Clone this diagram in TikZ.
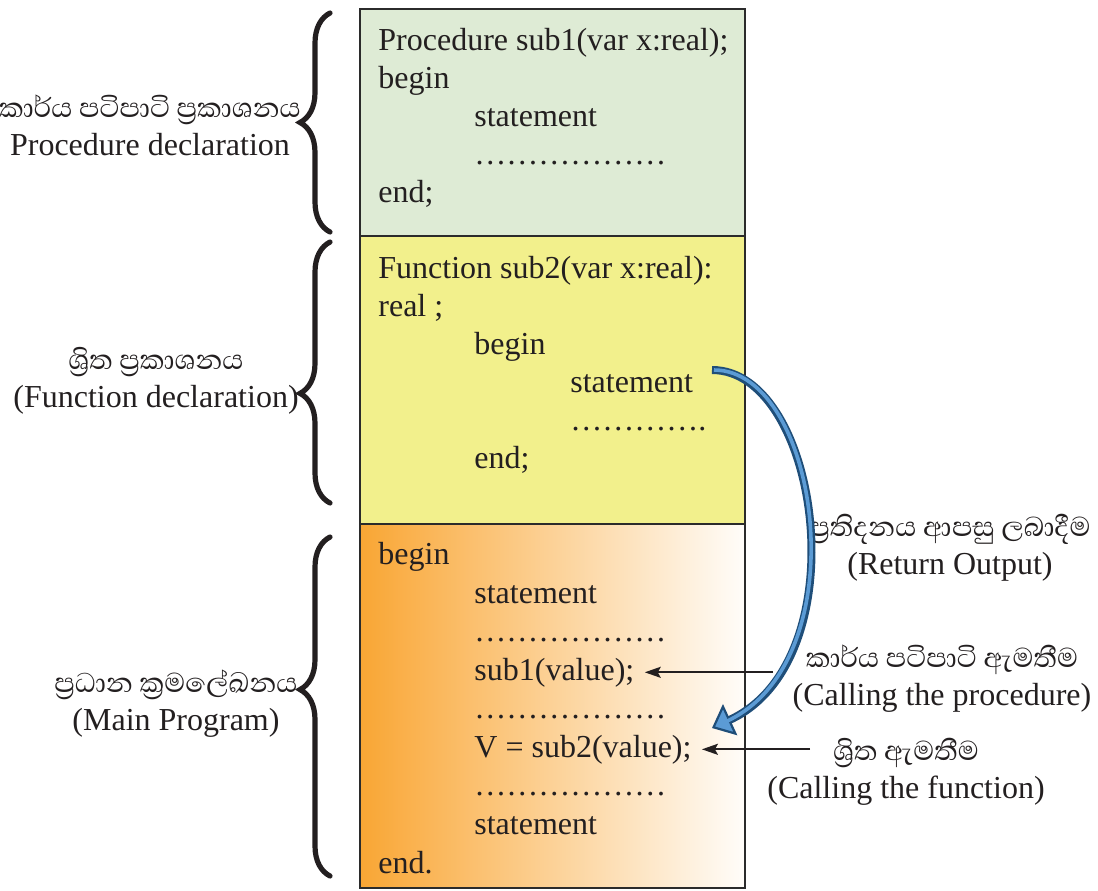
\documentclass[tikz,border=0pt]{standalone}
\usepackage{fontspec}
\setmainfont{Liberation Serif}
\newfontfamily\sinfont[Script=Sinhala, Scale=1.09]{Abhaya Libre}
\usetikzlibrary{arrows.meta, decorations.pathreplacing}
\definecolor{procgreen}{RGB}{222,235,213}
\definecolor{funcyellow}{RGB}{242,240,140}
\definecolor{mainorange}{RGB}{249,166,52}
\definecolor{mainwhite}{RGB}{255,253,250}
\definecolor{boxborder}{RGB}{43,43,43}
\definecolor{inkblack}{RGB}{35,31,32}
\definecolor{retdark}{RGB}{31,78,121}
\definecolor{retlight}{RGB}{91,155,213}

\begin{document}
\begin{tikzpicture}[
        x=0.5pt, y=-0.5pt,
        every node/.style = {text=inkblack, font=\fontsize{16}{19}\selectfont},
        codeline/.style = {anchor=base west, inner sep=0pt},
        codebox/.style = {draw=boxborder, line width=1pt},
        sidelabel/.style = {align=center, inner sep=0pt},
        sidebrace/.style = {draw=inkblack, line width=2.6pt, line cap=round, decorate, decoration={brace, amplitude=15pt, aspect=#1}},
        sidebrace/.default = 0.5,
        callarrow/.style = {draw=inkblack, line width=1pt, -{Stealth[length=8pt, width=5.5pt, inset=1.5pt]}, shorten >=5pt},
        retouter/.style = {draw=retdark, line width=4pt, -{Triangle[length=10pt, width=17pt, fill=retlight, line width=1.1pt]}},
        retinner/.style = {draw=retlight, line width=1.8pt, shorten >=8pt, shorten <=1pt}
    ]
        \useasboundingbox (0,0) rectangle (1098,890);

        % Boxes
        \draw [codebox, fill=procgreen] (360,9) rectangle (745,236);
        \draw [codebox, fill=funcyellow] (360,236) rectangle (745,524);
        \draw [codebox, left color=mainorange, right color=mainwhite] (360,524) rectangle (745,888);

        % Procedure declaration
        \node (p1) [codeline] at (378,50) {Procedure sub1(var x:real);};
        \node (p2) [codeline] at (378,88) {begin};
        \node (p3) [codeline] at (474,126) {statement};
        \node (p4) [codeline] at (474,164) {………………};
        \node (p5) [codeline] at (378,202) {end;};

        % Function declaration
        \node (f1) [codeline] at (378,278) {Function sub2(var x:real):};
        \node (f2) [codeline] at (378,316) {real ;};
        \node (f3) [codeline] at (474,354) {begin};
        \node (f4) [codeline] at (570,392) {statement};
        \node (f5) [codeline] at (570,430) {………….};
        \node (f6) [codeline] at (474,468) {end;};

        % Main program
        \node (m1) [codeline] at (378,564) {begin};
        \node (m2) [codeline] at (474,603) {statement};
        \node (m3) [codeline] at (474,641) {………………};
        \node (callsub1) [codeline] at (474,680) {sub1(value);};
        \node (m5) [codeline] at (474,718) {………………};
        \node (callsub2) [codeline] at (474,757) {V = sub2(value);};
        \node (m7) [codeline] at (474,795) {………………};
        \node (m8) [codeline] at (474,834) {statement};
        \node (m9) [codeline] at (378,873) {end.};

        % Braces and their labels
        \draw [sidebrace] (330,232) -- (330,13);
        \draw [sidebrace=0.42] (330,503) -- (330,242);
        \draw [sidebrace=0.55] (330,876) -- (330,537);
        \node (proclabel) [sidelabel] at (150,125) {{\sinfont කාර්ය පටිපාටි ප්^^^^200dරකාශනය}\\Procedure declaration};
        \node (funclabel) [sidelabel] at (156,381) {{\sinfont ශ්^^^^200dරිත ප්^^^^200dරකාශනය}\\(Function declaration)};
        \node (mainlabel) [sidelabel] at (176,704) {{\sinfont ප්^^^^200dරධාන ක්^^^^200dරමලේඛනය}\\(Main Program)};

        % Right labels
        \node (retlabel) [sidelabel] at (950,548) {{\sinfont ප්^^^^200dරතිදනය ආපසු ලබාදීම}\\(Return Output)};
        \node (proccall) [sidelabel] at (942,679) {{\sinfont කාර්ය පටිපාටි ඇමතීම}\\(Calling the procedure)};
        \node (funccall) [sidelabel] at (906,772) {{\sinfont ශ්^^^^200dරිත ඇමතීම}\\(Calling the function)};

        % Calls
        \coordinate (procin) at (callsub1.east -| 773,0);
        \coordinate (funcin) at (callsub2.east -| 810,0);
        \draw [callarrow] (procin) -- (callsub1);
        \draw [callarrow] (funcin) -- (callsub2);

        % Return value
        \coordinate (retfrom) at (712,370);
        \coordinate (retto) at (712,728);
        \draw [retouter] (retfrom) .. controls (820,370) and (860,660) .. (retto);
        \draw [retinner] (retfrom) .. controls (820,370) and (860,660) .. (retto);

    \end{tikzpicture}
\end{document}
